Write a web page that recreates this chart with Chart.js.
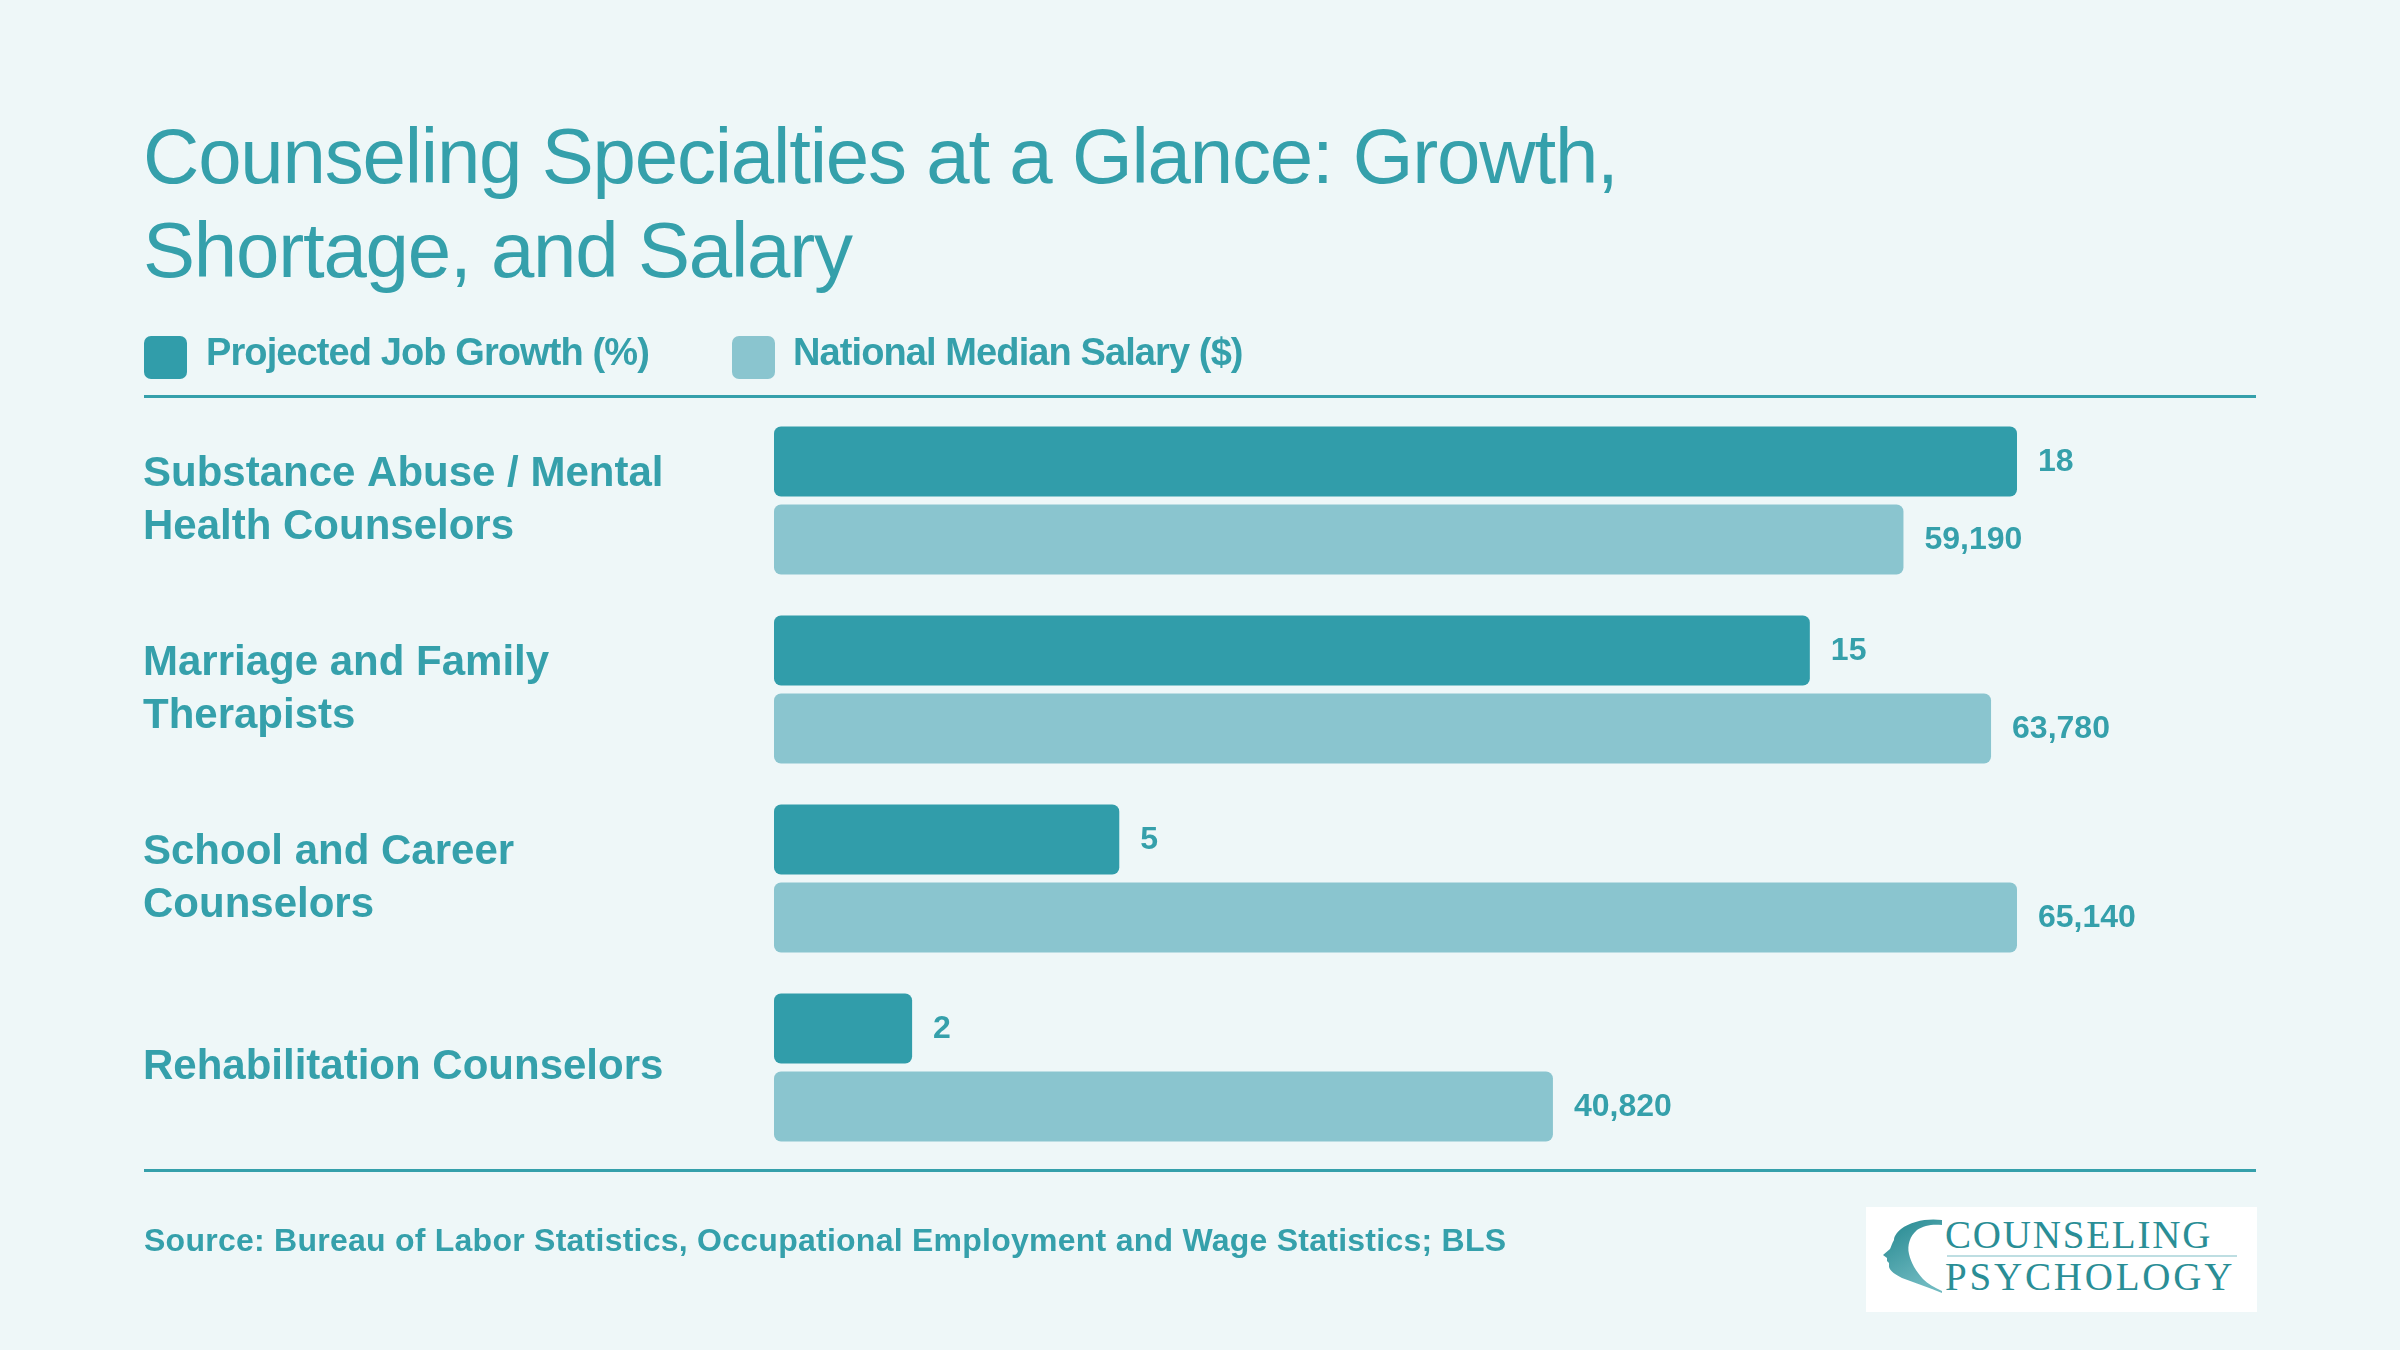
<!DOCTYPE html>
<html>
<head>
<meta charset="utf-8">
<script src="https://cdn.jsdelivr.net/npm/chart.js@4.4.1/dist/chart.umd.min.js"></script>
<style>
    body { margin: 0; background: #EEF7F8; }
    #page { position: relative; width: 2400px; height: 1350px; overflow: hidden;
            font-family: "Liberation Sans", Arial, Helvetica, sans-serif; color: #35A0AB; }
    #chart { position: absolute; left: 0; top: 0; }
    .title { position: absolute; left: 143px; top: 109px; font-size: 78px; line-height: 94px; letter-spacing: -1.2px; }
    .legend-box { position: absolute; top: 336px; width: 43px; height: 43px; border-radius: 7px; }
    .legend-text { position: absolute; top: 331px; font-size: 38px; line-height: 43px; font-weight: bold; letter-spacing: -0.9px; }
    .rule { position: absolute; left: 144px; width: 2112px; height: 3px; background: #35A0AB; }
    .source { position: absolute; left: 144px; top: 1224px; font-size: 32px; line-height: 32px; font-weight: bold; letter-spacing: 0.25px; }
    #logo { position: absolute; left: 1866px; top: 1207px; }
</style>
</head>
<body>
<div id="page">
    <canvas id="chart" width="2400" height="1350"></canvas>
    <div class="title">Counseling Specialties at a Glance: Growth,<br>Shortage, and Salary</div>
    <div id="legend"></div>
    <div class="rule" style="top:395px"></div>
    <div class="rule" style="top:1169px"></div>
    <div class="source">Source: Bureau of Labor Statistics, Occupational Employment and Wage Statistics; BLS</div>
    <svg id="logo" width="391" height="105" viewBox="0 0 391 105">
        <defs>
            <linearGradient id="headGrad" x1="0" y1="0" x2="0.5" y2="1">
                <stop offset="0" stop-color="#23878F"/>
                <stop offset="1" stop-color="#6FB9C0"/>
            </linearGradient>
        </defs>
        <rect x="0" y="0" width="391" height="105" fill="#ffffff"/>
        <path d="M76,13 C62,11 45,14 35,22 C30,26 28,30 28,33 C26,36 25,40 24,42 L17,48 L21,51 L21,54 L23,56 L23,60 C24,64 30,68 36,71 C46,75 56,78 66,82 L76,86 L76,84 C68,80 62,77 57,72 C50,64 45,56 43,47 C41,38 44,29 51,23 C58,18 67,17 76,18 Z" fill="url(#headGrad)"/>
        <text x="79" y="41" font-family="Liberation Serif, Times New Roman, serif" font-size="39" letter-spacing="1.8" fill="#2A8E96">COUNSELING</text>
        <line x1="81" y1="49" x2="371" y2="49" stroke="#A9D3D8" stroke-width="1.5"/>
        <text x="79" y="83" font-family="Liberation Serif, Times New Roman, serif" font-size="39" letter-spacing="2.8" fill="#2A8E96">PSYCHOLOGY</text>
    </svg>
</div>
<script>
// chart data
var categories = [
    ['Substance Abuse / Mental', 'Health Counselors'],
    ['Marriage and Family', 'Therapists'],
    ['School and Career', 'Counselors'],
    'Rehabilitation Counselors'
];
var jobGrowth = [18, 15, 5, 2];
var medianSalary = [59190, 63780, 65140, 40820];
var seriesNames = ['Projected Job Growth (%)', 'National Median Salary ($)'];
var seriesColors = ['#319DAA', '#8AC5CF'];

var textColor = '#35A0AB';
var fontFamily = '"Liberation Sans", Arial, Helvetica, sans-serif';

// legend (html)
var legend = document.getElementById('legend');
var legendX = [[144, 206], [732, 793]];
seriesNames.forEach(function (name, i) {
    var box = document.createElement('div');
    box.className = 'legend-box';
    box.style.left = legendX[i][0] + 'px';
    box.style.background = seriesColors[i];
    legend.appendChild(box);
    var txt = document.createElement('div');
    txt.className = 'legend-text';
    txt.style.left = legendX[i][1] + 'px';
    txt.textContent = name;
    legend.appendChild(txt);
});

// value labels at end of bars
var valueLabels = {
    id: 'valueLabels',
    afterDatasetsDraw: function (chart) {
        var ctx = chart.ctx;
        ctx.save();
        ctx.font = 'bold 32px ' + fontFamily;
        ctx.fillStyle = textColor;
        ctx.textBaseline = 'middle';
        ctx.textAlign = 'left';
        chart.data.datasets.forEach(function (ds, i) {
            chart.getDatasetMeta(i).data.forEach(function (bar, j) {
                ctx.fillText(ds.data[j].toLocaleString('en-US'), bar.x + 21, bar.y + 1);
            });
        });
        ctx.restore();
    }
};

var ctx = document.getElementById('chart').getContext('2d');

var chart = new Chart(ctx, {
    type: 'bar',
    data: {
        labels: categories,
        datasets: [{
            label: seriesNames[0],
            data: jobGrowth,
            xAxisID: 'xGrowth',
            backgroundColor: seriesColors[0],
            borderRadius: 7,
            borderSkipped: false,
            barPercentage: 0.897,
            categoryPercentage: 0.825
        }, {
            label: seriesNames[1],
            data: medianSalary,
            xAxisID: 'xSalary',
            backgroundColor: seriesColors[1],
            borderRadius: 7,
            borderSkipped: false,
            barPercentage: 0.897,
            categoryPercentage: 0.825
        }]
    },
    options: {
        indexAxis: 'y',
        responsive: false,
        animation: false,
        devicePixelRatio: 1,
        layout: {
            padding: { left: 143, right: 383, top: 406, bottom: 188 }
        },
        scales: {
            y: {
                grid: { display: false },
                border: { display: false },
                ticks: {
                    crossAlign: 'far',
                    color: textColor,
                    font: { family: fontFamily, size: 42, weight: 'bold', lineHeight: 1.26 }
                },
                afterFit: function (axis) {
                    axis.width = 774 - 143;
                }
            },
            xGrowth: {
                display: false,
                min: 0,
                max: Math.max.apply(null, jobGrowth)
            },
            xSalary: {
                display: false,
                min: 0,
                max: Math.max.apply(null, medianSalary)
            }
        },
        plugins: {
            legend: { display: false },
            tooltip: { enabled: false }
        }
    },
    plugins: [valueLabels]
});
</script>
</body>
</html>
